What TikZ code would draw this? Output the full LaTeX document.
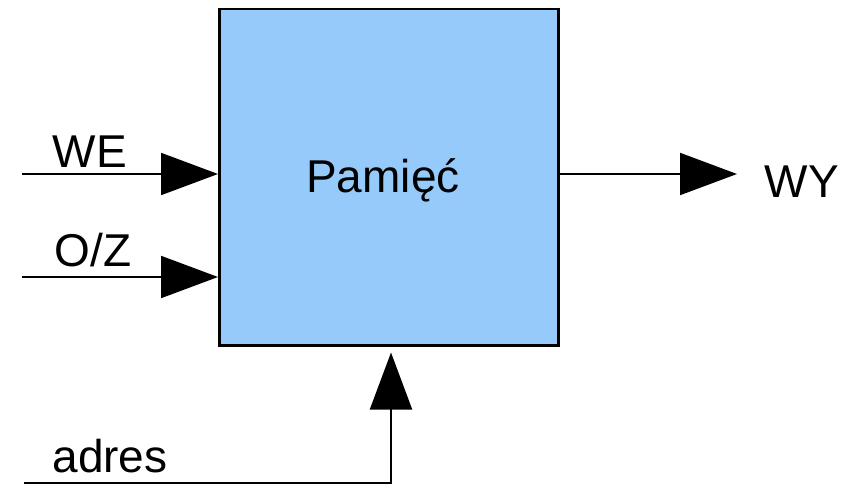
\documentclass[tikz,border=0pt]{standalone}
\usepackage{fontspec}
\setmainfont{Liberation Sans}
\usetikzlibrary{arrows.meta}
\definecolor{memblue}{RGB}{150,202,250}
\tikzset{
  wire/.style={line width=2pt, black, -{Triangle[length=57pt,width=42pt]}},
  lbl/.style={inner sep=0pt, anchor=base, font=\fontsize{46}{50}\selectfont},
}
\begin{document}
\begin{tikzpicture}[x=1pt,y=-1pt]
  \useasboundingbox (0,0) rectangle (848,487);
  % memory block
  \node[draw=black, line width=2.5pt, fill=memblue, minimum width=339pt, minimum height=336pt,
        inner sep=0pt, anchor=north west] (mem) at (218,8) {};
  \node[lbl] (title) at (383,192) {Pamięć};
  % free ends of the signal lines
  \coordinate (we) at (22,174);
  \coordinate (oz) at (22,277);
  \coordinate (wy) at (737,174);
  \coordinate (ad) at (24,483);
  \coordinate (adup) at (391,483);
  % inputs and output
  \draw[wire] (we) -- (mem.west |- we);
  \draw[wire] (oz) -- (mem.west |- oz);
  \draw[wire] (mem.east |- wy) -- (wy);
  \draw[wire, shorten >=6pt] (ad) -- (adup) -- (adup |- mem.south);
  % labels
  \node[lbl] (lwe) at (90,167) {WE};
  \node[lbl] (loz) at (93,266) {O/Z};
  \node[lbl] (lwy) at (802,197) {WY};
  \node[lbl] (lad) at (110,472) {adres};
\end{tikzpicture}
\end{document}
